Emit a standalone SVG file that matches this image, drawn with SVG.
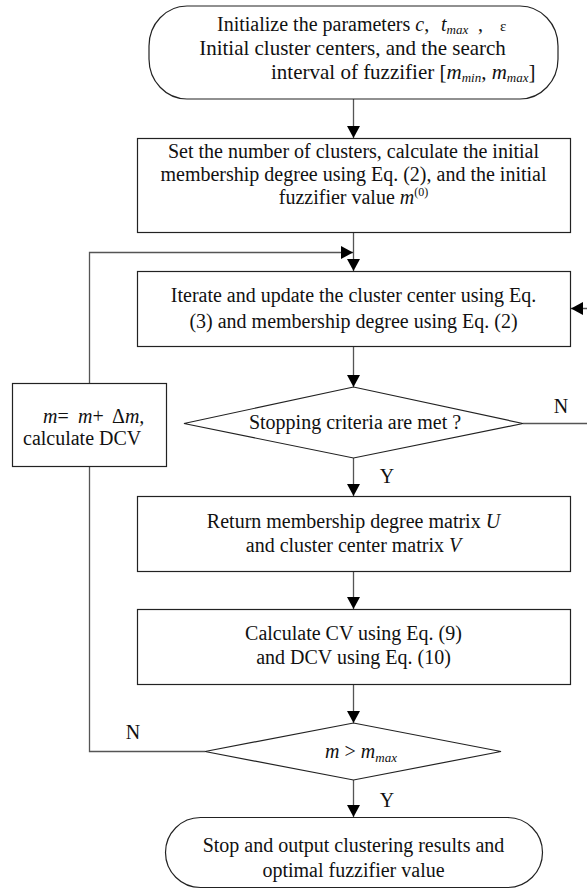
<svg xmlns="http://www.w3.org/2000/svg" width="587" height="891" viewBox="0 0 587 891">
<defs>
<style>
text{font-family:"Liberation Serif","Times New Roman",serif;font-size:20px;fill:#111}
.c{text-anchor:middle}
.i{font-style:italic}
.sub{font-style:italic;font-size:13px}
.big{font-size:21px}
.box{fill:#fff;stroke:#222;stroke-width:1.2}
.ln{fill:none;stroke:#555;stroke-width:1.3}
</style>
<marker id="ah" viewBox="0 0 12 13" refX="12" refY="6.5" markerWidth="12" markerHeight="13" markerUnits="userSpaceOnUse" orient="auto">
<path d="M0,0 L12,6.5 L0,13 z" fill="#000"/>
</marker>
</defs>
<rect width="587" height="891" fill="#fff"/>
<g id="connectors">
<line class="ln" x1="353.5" y1="99" x2="353.5" y2="138" marker-end="url(#ah)"/>
<line class="ln" x1="353.5" y1="233" x2="353.5" y2="271" marker-end="url(#ah)"/>
<line class="ln" x1="353.5" y1="346" x2="353.5" y2="387" marker-end="url(#ah)"/>
<line class="ln" x1="353.5" y1="458" x2="353.5" y2="496" marker-end="url(#ah)"/>
<line class="ln" x1="353.5" y1="571" x2="353.5" y2="609" marker-end="url(#ah)"/>
<line class="ln" x1="353.5" y1="684" x2="353.5" y2="723" marker-end="url(#ah)"/>
<line class="ln" x1="353.5" y1="780" x2="353.5" y2="817" marker-end="url(#ah)"/>
<path class="ln" d="M205,751.5 H89.5 V252.5 H353" marker-end="url(#ah)"/>
<path class="ln" d="M523,423.5 H592 V308.5 H571" marker-end="url(#ah)"/>
<text x="561" y="413" class="c">N</text>
<text x="387" y="483" class="c">Y</text>
<text x="133" y="739" class="c">N</text>
<text x="387" y="807" class="c">Y</text>
</g>
<g id="start">
<rect class="box" x="149" y="6" width="409" height="93" rx="38" ry="40"/>
<text x="217" y="31">Initialize the parameters <tspan class="i">c</tspan>,<tspan x="441" class="i">t</tspan><tspan class="sub" dy="3">max</tspan><tspan dy="-3" x="478">,</tspan><tspan x="500" font-size="15">ε</tspan></text>
<text x="352.5" y="55" class="big c">Initial cluster centers, and the search</text>
<text x="271" y="79" class="big">interval of fuzzifier [<tspan class="i">m</tspan><tspan class="sub" dy="3">min</tspan><tspan dy="-3">, </tspan><tspan class="i">m</tspan><tspan class="sub" dy="3">max</tspan><tspan dy="-3">]</tspan></text>
</g>
<g id="init">
<rect class="box" x="137.5" y="138.5" width="433" height="94"/>
<text x="353.5" y="158" class="c">Set the number of clusters, calculate the initial</text>
<text x="353.5" y="181" class="c">membership degree using Eq. (2), and the initial</text>
<text x="353.5" y="204" class="c">fuzzifier value <tspan class="i">m</tspan><tspan font-size="12" dy="-8">(0)</tspan></text>
</g>
<g id="iterate">
<rect class="box" x="137.5" y="271.5" width="433" height="75"/>
<text x="353.5" y="302" class="c">Iterate and update the cluster center using Eq.</text>
<text x="353.5" y="328" class="c">(3) and membership degree using Eq. (2)</text>
</g>
<g id="stopcheck">
<polygon class="box" points="184,423.5 353.5,387 523,423.5 353.5,458"/>
<text x="355" y="429" class="c">Stopping criteria are met ?</text>
</g>
<g id="update">
<rect class="box" x="12.5" y="383.5" width="154" height="83"/>
<text x="43" y="423"><tspan class="i">m</tspan>=<tspan x="78" class="i">m</tspan>+<tspan x="112">Δ</tspan><tspan class="i">m,</tspan></text>
<text x="23" y="445">calculate DCV</text>
</g>
<g id="result">
<rect class="box" x="137.5" y="496.5" width="433" height="75"/>
<text x="353.5" y="528" class="c">Return membership degree matrix <tspan class="i">U</tspan></text>
<text x="353.5" y="552" class="c">and cluster center matrix <tspan class="i">V</tspan></text>
</g>
<g id="cv">
<rect class="box" x="137.5" y="609.5" width="433" height="75"/>
<text x="353.5" y="640" class="c">Calculate CV using Eq. (9)</text>
<text x="353.5" y="664" class="c">and DCV using Eq. (10)</text>
</g>
<g id="mcheck">
<polygon class="box" points="205,751.5 353.5,723 501,751.5 353.5,780"/>
<text x="361" y="758" class="c"><tspan class="i">m</tspan> &gt; <tspan class="i">m</tspan><tspan class="sub" dy="4">max</tspan></text>
</g>
<g id="end">
<rect class="box" x="165.5" y="817.5" width="377" height="70" rx="35" ry="35"/>
<text x="353.5" y="852" class="c">Stop and output clustering results and</text>
<text x="353.5" y="877" class="c">optimal fuzzifier value</text>
</g>
</svg>
